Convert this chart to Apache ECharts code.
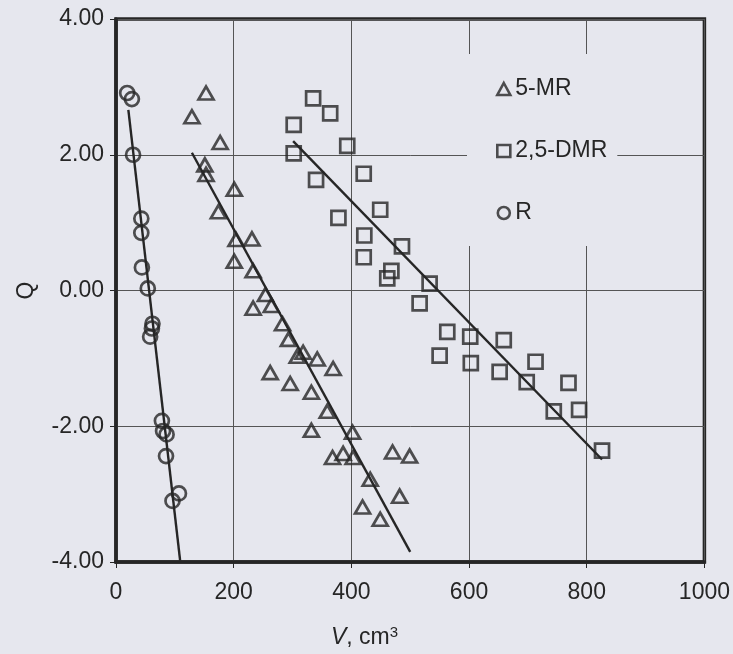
<!DOCTYPE html>
<html>
<head>
<meta charset="utf-8">
<script src="https://cdn.jsdelivr.net/npm/echarts@6/dist/echarts.min.js"></script>
<style>
  html, body { margin: 0; padding: 0; background: #e6e7ee; }
  #chart { width: 733px; height: 654px; }
</style>
</head>
<body>
<div id="chart"></div>
<script>
// V (cm3) / Q pairs
const mrPoints = [
  [153, 2.91], [129, 2.56], [177, 2.18], [151, 1.85], [153, 1.71], [201, 1.49],
  [174, 1.16], [204, 0.75], [231, 0.76], [201, 0.43], [233, 0.29], [254, -0.06],
  [264, -0.22], [233, -0.26], [283, -0.49], [293, -0.72], [308, -0.97], [318, -0.91],
  [342, -1.01], [369, -1.15], [262, -1.21], [296, -1.37], [332, -1.50], [359, -1.78],
  [332, -2.06], [402, -2.09], [368, -2.46], [386, -2.40], [403, -2.46], [470, -2.38],
  [499, -2.44], [432, -2.78], [482, -3.03], [419, -3.19], [449, -3.37]
];
const dmrPoints = [
  [302, 2.44], [335, 2.83], [364, 2.61], [393, 2.13], [302, 2.02], [340, 1.63],
  [421, 1.72], [378, 1.07], [449, 1.19], [422, 0.81], [421, 0.49], [486, 0.65],
  [468, 0.29], [461, 0.18], [533, 0.10], [516, -0.19], [563, -0.61], [602, -0.68],
  [550, -0.96], [603, -1.07], [659, -0.73], [652, -1.20], [713, -1.05], [698, -1.35],
  [769, -1.36], [744, -1.78], [787, -1.76], [826, -2.36]
];
const rPoints = [
  [19, 2.91], [27, 2.82], [29, 2.0], [43, 1.06], [43, 0.85], [44, 0.34],
  [54, 0.03], [62, -0.49], [61, -0.56], [58, -0.68], [78, -1.92], [80, -2.07],
  [86, -2.12], [85, -2.44], [107, -2.99], [96, -3.1]
];
// fitted lines, end points
const mrFit = [[129, 2.03], [500, -3.85]];
const dmrFit = [[301, 2.20], [826, -2.49]];
const rFit = [[21, 2.66], [109, -3.98]];

const xTicks = { min: 0, max: 1000, step: 200 };
const yTicks = { min: -4, max: 4, step: 2 };

const ink = '#262626';
const bg = '#e6e7ee';
const font = '"Liberation Sans", Arial, sans-serif';
const fs = 23;

const chart = echarts.init(document.getElementById('chart'));

const markerStyle = {
  color: 'rgba(0,0,0,0)',
  borderColor: ink,
  borderWidth: 2.7,
};
const fitLine = (name, data) => ({
  name: name,
  type: 'line',
  data: data,
  symbol: 'none',
  silent: true,
  lineStyle: { color: ink, width: 2.4 },
  z: 3,
});

chart.setOption({
  backgroundColor: bg,
  animation: false,
  textStyle: { fontFamily: font, color: ink },
  grid: {
    left: 116, right: 28, top: 19, bottom: 92,
    show: true,
    borderColor: ink,
    borderWidth: 3.5,
  },
  title: {
    left: 326, top: 620,
    text: '{v|V}, cm{s|3}',
    textStyle: {
      rich: {
        v: { fontFamily: font, fontSize: fs, fontStyle: 'italic', color: ink },
        s: { fontFamily: font, fontSize: 15, color: ink, verticalAlign: 'top', padding: [0, 0, 10, 0] },
      },
      fontFamily: font, fontSize: fs, fontWeight: 'normal', color: ink,
    },
  },
  legend: {
    data: ['5-MR', '2,5-DMR', 'R'],
    orient: 'vertical',
    left: 467, top: 54,
    padding: [22, 10, 20, 29],
    backgroundColor: bg,
    itemWidth: 13, itemHeight: 12,
    itemGap: 36,
    itemStyle: { color: 'rgba(0,0,0,0)', borderColor: ink, borderWidth: 2.6 },
    textStyle: { fontFamily: font, fontSize: fs, color: ink, lineHeight: 26 },
  },
  xAxis: {
    type: 'value',
    min: xTicks.min, max: xTicks.max, interval: xTicks.step,
    axisLine: { show: true, onZero: false, lineStyle: { color: ink, width: 3.5 } },
    axisTick: { show: true, length: 6, lineStyle: { color: ink, width: 1 } },
    axisLabel: { fontFamily: font, fontSize: fs, color: ink, margin: 19, formatter: v => String(v) },
    splitLine: { show: true, lineStyle: { color: '#555', width: 1 } },
  },
  yAxis: {
    type: 'value',
    min: yTicks.min, max: yTicks.max, interval: yTicks.step,
    name: 'Q',
    nameLocation: 'middle',
    nameGap: 78,
    nameTextStyle: { fontFamily: font, fontSize: fs, color: ink },
    axisLine: { show: true, onZero: false, lineStyle: { color: ink, width: 3.5 } },
    axisTick: { show: true, length: 6, lineStyle: { color: ink, width: 1 } },
    axisLabel: { fontFamily: font, fontSize: fs, color: ink, margin: 12, formatter: v => v.toFixed(2) },
    splitLine: { show: true, lineStyle: { color: '#555', width: 1 } },
  },
  series: [
    { name: '5-MR', type: 'scatter', data: mrPoints, symbol: 'triangle', symbolSize: [15, 13], itemStyle: markerStyle },
    { name: '2,5-DMR', type: 'scatter', data: dmrPoints, symbol: 'rect', symbolSize: 14, itemStyle: markerStyle },
    { name: 'R', type: 'scatter', data: rPoints, symbol: 'circle', symbolSize: 14, itemStyle: markerStyle },
    fitLine('fit 5-MR', mrFit),
    fitLine('fit 2,5-DMR', dmrFit),
    fitLine('fit R', rFit),
  ],
});
</script>
</body>
</html>
